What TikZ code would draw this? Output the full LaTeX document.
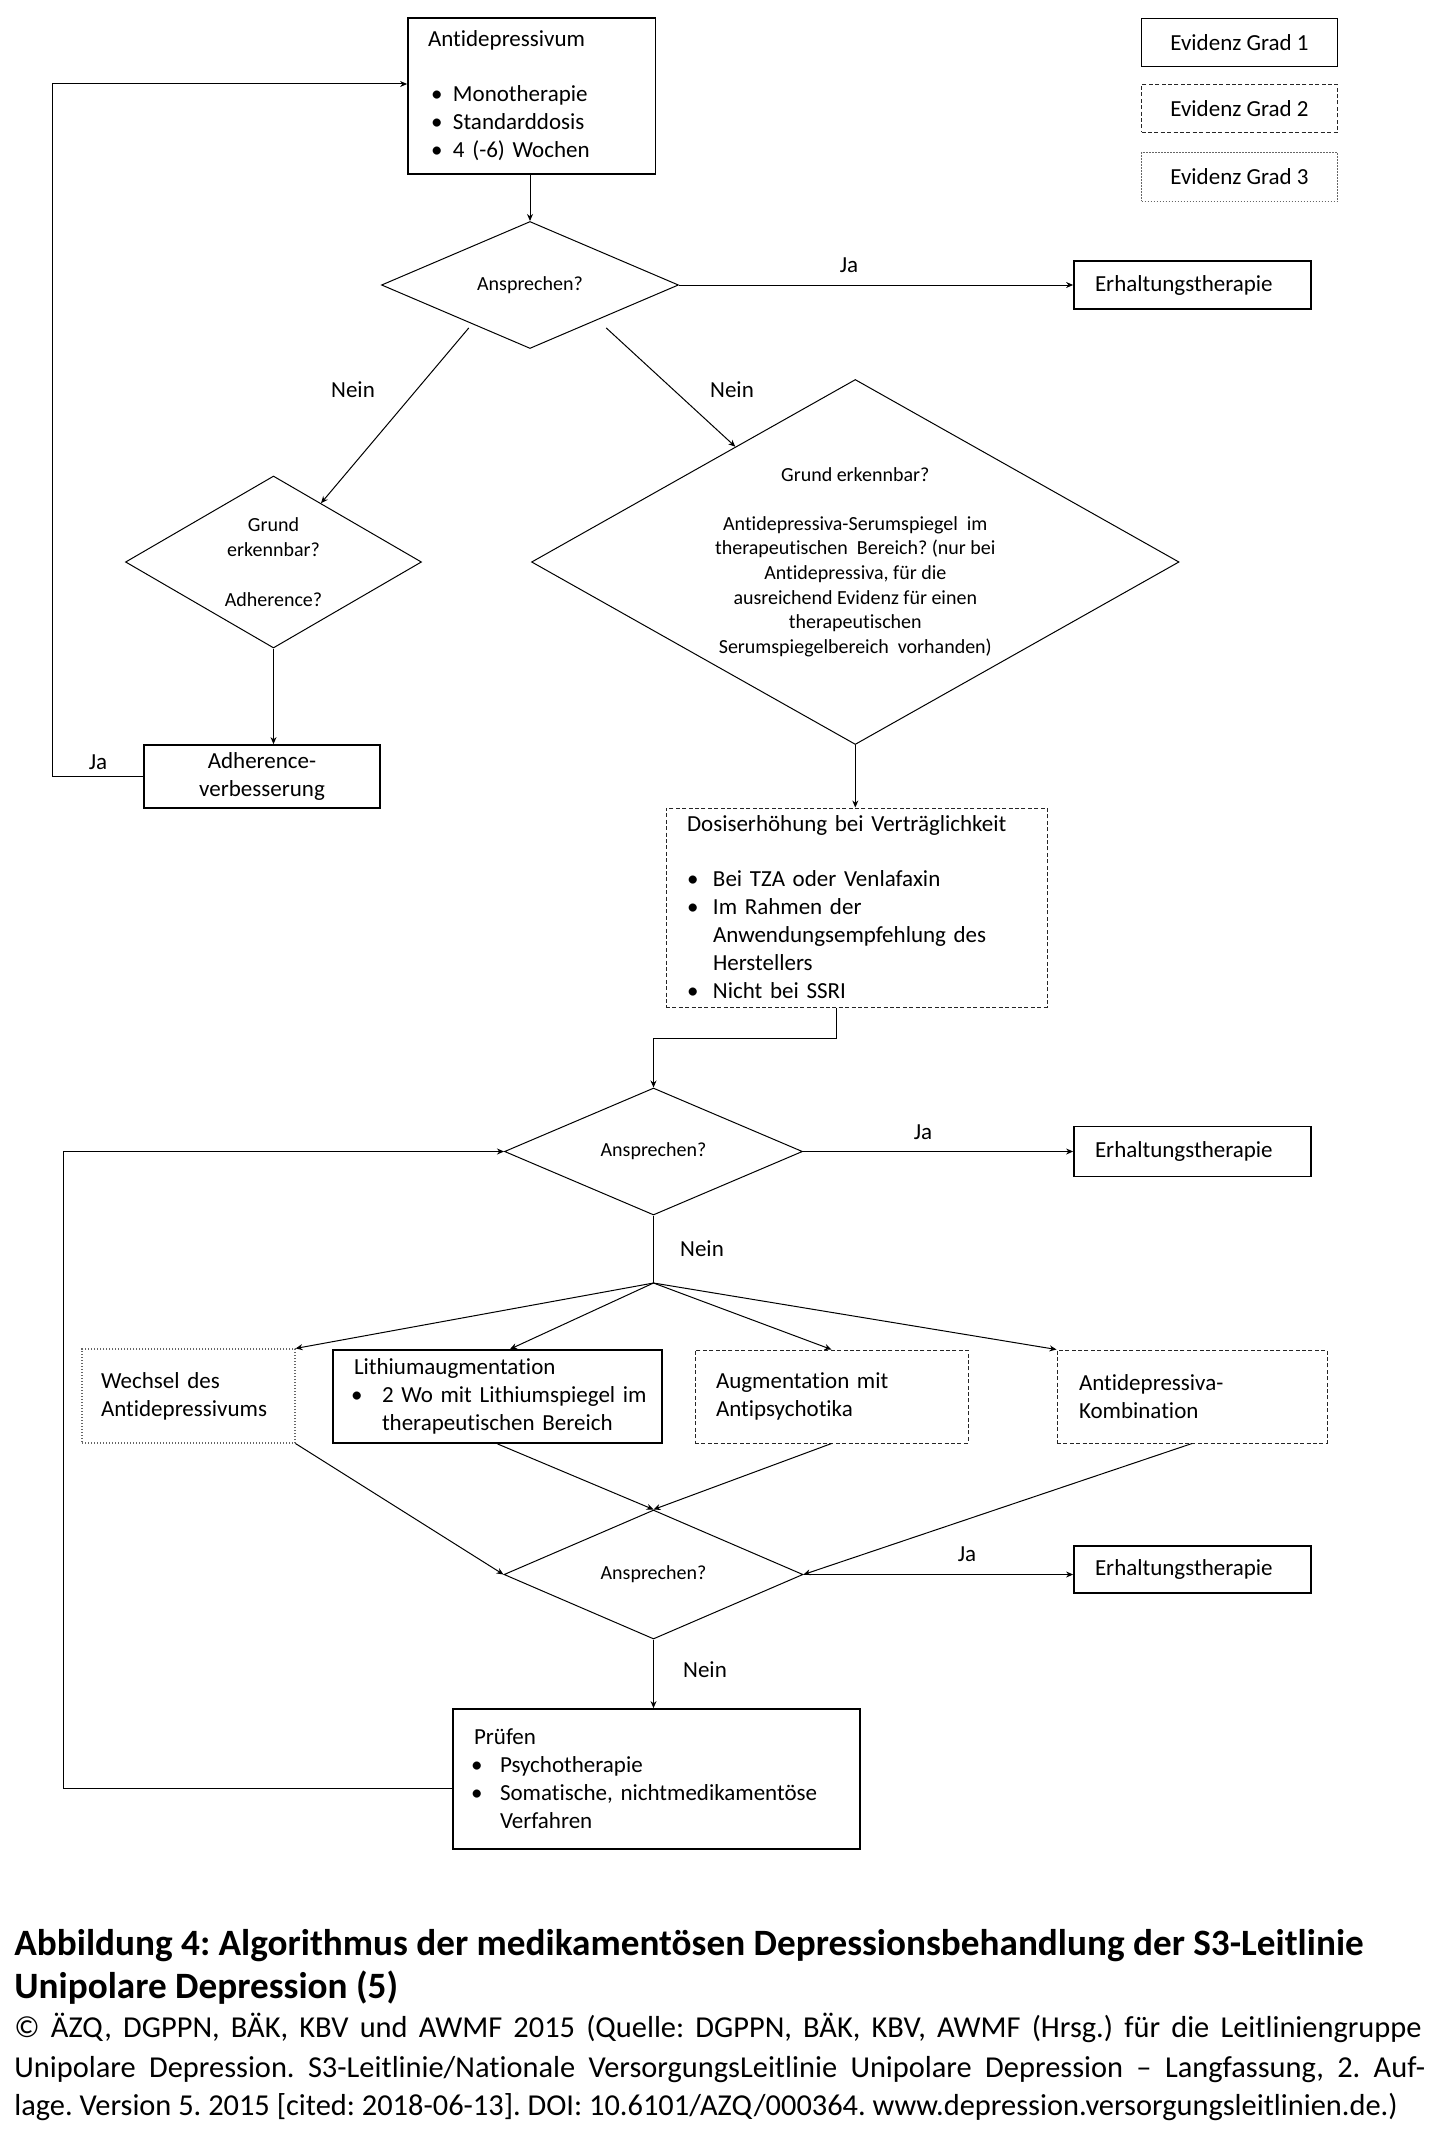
\documentclass[tikz,border=0pt]{standalone}
\usepackage{fontspec}
\setmainfont{Carlito}[Ligatures={NoCommon,NoContextual}]
\usetikzlibrary{shapes.geometric,arrows.meta,calc}
\newcommand{\bul}[3]{\makebox[#2][l]{\hspace{#1}\textbullet}#3}
\frenchspacing
\begin{document}
\frenchspacing
\begin{tikzpicture}[x=0.5pt,y=-0.5pt,
  base/.style={font=\fontsize{11.5}{14}\selectfont, inner ysep=0pt},
  g1/.style={draw, line width=0.9pt},
  g2/.style={draw=black!85, line width=0.5pt, dash pattern=on 2pt off 1.2pt},
  g3/.style={draw=black!60, line width=0.55pt, dash pattern=on 0.6pt off 0.9pt},
  dia/.style={diamond, draw, line width=0.5pt, inner sep=0pt, font=\fontsize{10}{12.3}\selectfont, align=center},
  conn/.style={line width=0.5pt, -{Stealth[length=3.5pt,width=3pt]}},
  plain/.style={line width=0.5pt},
  lbl/.style={font=\fontsize{11.5}{14}\selectfont, inner sep=0pt},
  capb/.style={font=\bfseries\fontsize{18.6}{22}\selectfont, inner sep=0pt, anchor=base west},
  capr/.style={font=\fontsize{15.2}{20}\selectfont, inner sep=0pt, anchor=base west}
]
\fill[white] (0,0) rectangle (1442,2135);
\useasboundingbox (0,0) rectangle (1442,2135);

% legend
\node[g1, base, minimum width=98pt, minimum height=24pt] (ev1) at (1239.5,42.5) {Evidenz Grad 1};
\node[g2, base, minimum width=98pt, minimum height=24pt] (ev2) at (1239.5,108.5) {Evidenz Grad 2};
\node[g3, base, minimum width=98pt, minimum height=24.5pt] (ev3) at (1239.5,177) {Evidenz Grad 3};

% top part
\node[g1, base, minimum width=123.75pt, minimum height=78pt, text width=103.75pt, inner xsep=10pt, align=left] (anti) at (531.75,96)
  {Antidepressivum\\[13.5pt]\bul{1.6pt}{12.5pt}{Monotherapie}\\\bul{1.6pt}{12.5pt}{Standarddosis}\\\bul{1.6pt}{12.5pt}{4 (-6) Wochen}};

\node[dia, aspect=2.34, minimum width=148.5pt, minimum height=63.5pt] (d1) at (530,285) {Ansprechen?};
\node[g1, base, minimum width=118.5pt, minimum height=24pt, text width=97.5pt, inner xsep=10.5pt, align=left] (erh1) at (1192.5,285) {Erhaltungstherapie};
\node[lbl] (ja1) at (849,265) {Ja};

\node[dia, aspect=1.72, minimum width=148pt, minimum height=86pt, font=\fontsize{10}{12.5}\selectfont] (sd) at (273.5,562) {Grund\\erkennbar?\\[12.5pt]Adherence?};
\node[dia, aspect=1.77, minimum width=323.75pt, minimum height=182.5pt] (bd) at (855.3,562)
  {Grund erkennbar?\\[12.3pt]Antidepressiva-Serumspiegel\ \ im\\therapeutischen\ \ Bereich? (nur bei\\Antidepressiva, für die\\ausreichend Evidenz für einen\\therapeutischen\\Serumspiegelbereich\ \ vorhanden)};
\node[lbl] (nein1) at (353,390) {Nein};
\node[lbl] (nein2) at (732,390) {Nein};

\node[g1, base, minimum width=118pt, minimum height=31.5pt, align=center] (adh) at (262,776.5) {Adherence-\\verbesserung};
\node[lbl] (ja2) at (98,762) {Ja};

\node[g2, base, minimum width=190.5pt, minimum height=99.5pt, text width=169.5pt, inner xsep=10.5pt, align=left] (dosis) at (856.5,907.5)
  {Dosiserhöhung bei Verträglichkeit\\[13.5pt]\bul{0.1pt}{13pt}{Bei TZA oder Venlafaxin}\\\bul{0.1pt}{13pt}{Im Rahmen der}\\\hspace*{13pt}\mbox{Anwendungsempfehlung des}\\\hspace*{13pt}Herstellers\\\bul{0.1pt}{13pt}{Nicht bei SSRI}};

% middle part
\node[dia, aspect=2.35, minimum width=149pt, minimum height=63.5pt] (d2) at (653.5,1151.5) {Ansprechen?};
\node[g1, base, minimum width=118.5pt, minimum height=25pt, text width=97.5pt, inner xsep=10.5pt, align=left] (erh2) at (1192.5,1151.5) {Erhaltungstherapie};
\node[lbl] (ja3) at (923,1132) {Ja};
\node[lbl] (nein3) at (702,1249) {Nein};
\coordinate (br) at (653.5,1283);

\node[g3, base, minimum width=106.5pt, minimum height=47pt, text width=87.5pt, inner xsep=9.5pt, align=left] (wech) at (188.5,1396) {Wechsel des\\Antidepressivums};
\node[g1, base, minimum width=164.5pt, minimum height=46.5pt, text width=143.5pt, inner xsep=10.5pt, align=left] (lith) at (497.5,1396.5)
  {Lithiumaugmentation\\\mbox{\bul{-1.4pt}{14pt}{2 Wo mit Lithiumspiegel im}}\\\hspace*{14pt}\mbox{therapeutischen Bereich}};
\node[g2, base, minimum width=136.5pt, minimum height=46.5pt, text width=115.5pt, inner xsep=10.5pt, align=left] (aug) at (831.5,1396.5) {Augmentation mit\\Antipsychotika};
\node[g2, base, minimum width=135pt, minimum height=46.5pt, text width=113pt, inner xsep=11pt, align=left] (komb) at (1192,1396.5) {Antidepressiva-\\Kombination};

% bottom part
\node[dia, aspect=2.32, minimum width=149.5pt, minimum height=64.5pt] (d3) at (653.5,1574.5) {Ansprechen?};
\node[g1, base, minimum width=118.5pt, minimum height=23.5pt, text width=97.5pt, inner xsep=10.5pt, align=left] (erh3) at (1192.5,1569.5) {Erhaltungstherapie};
\node[lbl] (ja4) at (967,1554) {Ja};
\node[lbl] (nein4) at (705,1670) {Nein};

\node[g1, base, minimum width=203.5pt, minimum height=70pt, text width=182.5pt, inner xsep=10.5pt, align=left] (pruf) at (656.5,1779)
  {Prüfen\\\bul{-1.4pt}{13pt}{Psychotherapie}\\\mbox{\bul{-1.4pt}{13pt}{Somatische, nichtmedikamentöse}}\\\hspace*{13pt}Verfahren};

% connectors
\draw[conn] (anti.south -| d1.north) -- (d1.north);
\draw[conn] (d1.east) -- (erh1.west);
\coordinate (n1a) at ($(d1.south)!0.33!(d1.west)+(-12,0)$);
\coordinate (n2a) at ($(d1.south)!0.33!(d1.east)+(27,0)$);
\draw[conn] (n1a) -- ($(sd.north)!0.32!(sd.east)$);
\draw[conn] (n2a) -- ($(bd.west)!0.63!(bd.north)$);
\draw[conn] (sd.south) -- (sd.south |- adh.north);
\coordinate (loopA) at (52,84);
\draw[conn] (adh.west) -| (loopA) -- (loopA -| anti.west);
\draw[conn] (bd.south) -- (bd.south |- dosis.north);
\coordinate (dA) at ($(dosis.south)+(-20.5,0)$);
\draw[conn] (dA) -- ++(0,31) -| (d2.north);
\draw[conn] (d2.east) -- (erh2.west);
\draw[plain] (d2.south) -- (br);
\draw[conn] (br) -- (wech.north east);
\draw[conn] (br) -- ($(lith.north)+(12.5,0)$);
\draw[conn] (br) -- (aug.north);
\draw[conn] (br) -- (komb.north west);
\draw[conn] (wech.south east) -- (d3.west);
\draw[conn] (lith.south) -- (d3.north);
\draw[conn] (aug.south) -- (d3.north);
\draw[conn] (komb.south) -- (d3.east);
\draw[conn] (d3.east) -- (d3.east -| erh3.west);
\draw[conn] (d3.south) -- (d3.south |- pruf.north);
\coordinate (loopB) at (63,1151.5);
\draw[conn] ($(pruf.west)+(0,9)$) -| (loopB) -- (d2.west);

% caption
\node[capb] (c1) at (14,1955) {Abbildung 4: Algorithmus der medikamentösen Depressionsbehandlung der S3-Leitlinie};
\node[capb] (c2) at (14,1998) {Unipolare Depression (5)};
\node[capr] (c3) at (14,2037) {\spaceskip=0.22em plus 0.3em minus 0.08em\hbox to 703.5pt{© ÄZQ, DGPPN, BÄK, KBV und AWMF 2015 (Quelle: DGPPN, BÄK, KBV, AWMF (Hrsg.) für die Leitliniengruppe}};
\node[capr] (c4) at (14,2077) {\spaceskip=0.22em plus 0.3em minus 0.08em\hbox to 705.5pt{Unipolare Depression. S3-Leitlinie/Nationale VersorgungsLeitlinie Unipolare Depression – Langfassung, 2. Auf-}};
\node[capr] (c5) at (14,2115) {lage. Version 5. 2015 [cited: 2018-06-13]. DOI: 10.6101/AZQ/000364. www.depression.versorgungsleitlinien.de.)};
\end{tikzpicture}
\end{document}
